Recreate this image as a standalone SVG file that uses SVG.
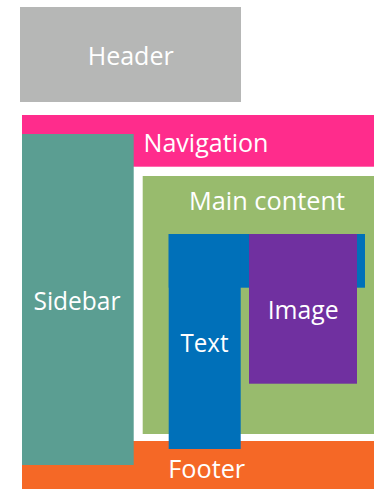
<svg xmlns="http://www.w3.org/2000/svg" width="374" height="489" viewBox="0 0 374 489">
  <style>
    .lbl { font-family: "Open Sans", "Noto Sans", sans-serif; font-size: 26px; fill: #ffffff; }
    .mid { text-anchor: middle; }
  </style>
  <rect width="374" height="489" fill="#ffffff"/>

  <!-- page header -->
  <g id="header">
    <rect x="20" y="7" width="221" height="95" fill="#b6b7b6"/>
    <text class="lbl mid" x="130.7" y="65.3" fill="#f4f4f4" textLength="86" lengthAdjust="spacingAndGlyphs">Header</text>
  </g>

  <!-- navigation bar -->
  <g id="navigation">
    <rect x="22" y="115" width="352" height="51.7" fill="#ff2c8c"/>
    <text class="lbl" x="143.5" y="151.7" textLength="125" lengthAdjust="spacingAndGlyphs">Navigation</text>
  </g>

  <!-- footer -->
  <g id="footer">
    <rect x="22" y="441" width="352" height="48" fill="#f56826"/>
    <text class="lbl mid" x="206.7" y="477.7" textLength="77" lengthAdjust="spacingAndGlyphs">Footer</text>
  </g>

  <!-- sidebar column -->
  <g id="sidebar">
    <rect x="22" y="134" width="111.7" height="331" fill="#5b9e92"/>
    <text class="lbl mid" x="77" y="310" textLength="87" lengthAdjust="spacingAndGlyphs">Sidebar</text>
  </g>

  <!-- main content area -->
  <g id="main-content">
    <rect x="142.7" y="176" width="231.3" height="258" fill="#98bb6d"/>
    <text class="lbl mid" x="267" y="210" textLength="156" lengthAdjust="spacingAndGlyphs">Main content</text>
  </g>

  <!-- text block (L-shaped) -->
  <g id="text">
    <rect x="168.7" y="234" width="196.3" height="53.7" fill="#0070b9"/>
    <rect x="168.7" y="234" width="72" height="215" fill="#0070b9"/>
    <text class="lbl mid" x="204.5" y="351.7" textLength="48" lengthAdjust="spacingAndGlyphs">Text</text>
  </g>

  <!-- image block -->
  <g id="image">
    <rect x="249" y="234" width="108" height="149.7" fill="#7030a0"/>
    <text class="lbl mid" x="303.2" y="319" textLength="71" lengthAdjust="spacingAndGlyphs">Image</text>
  </g>
</svg>
